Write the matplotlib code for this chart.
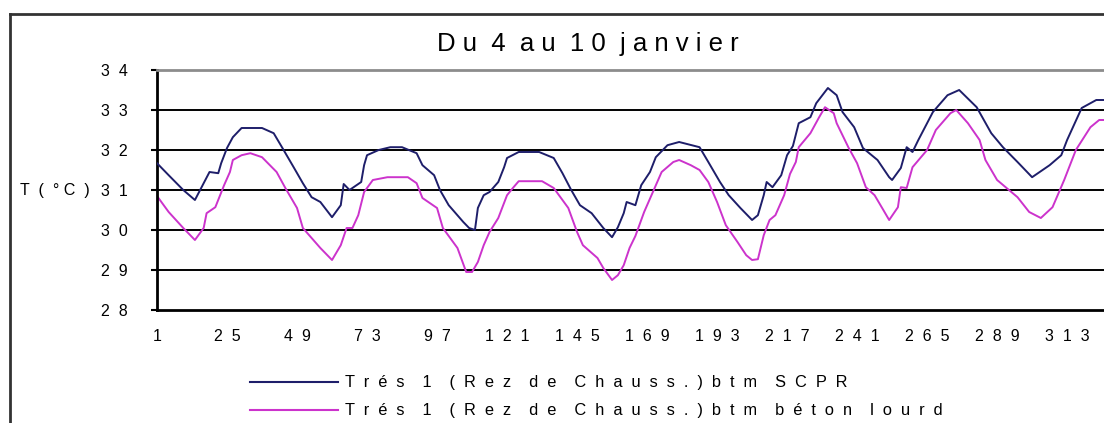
import matplotlib
matplotlib.use("Agg")
import matplotlib.pyplot as plt
from matplotlib.lines import Line2D

# Half-hourly indoor temperature, ground floor, 4-10 January
idx_scpr = [1, 5, 10, 14, 17, 19, 22, 23, 25, 27, 30, 37, 41, 44, 48, 51, 54, 57, 61, 64,
            65, 67, 71, 72, 73, 77, 81, 85, 90, 92, 96, 98, 101, 106, 108, 110, 111, 113, 115, 118,
            120, 121, 125, 132, 137, 140, 143, 146, 150, 154, 157, 159, 161, 162, 165, 167, 170, 172, 176, 180,
            187, 190, 194, 197, 201, 205, 207, 209, 210, 212, 215, 217, 219, 221, 225, 227, 231, 234, 236, 240,
            243, 248, 252, 253, 256, 258, 260, 262, 267, 272, 276, 282, 287, 291, 296, 301, 307, 311, 313, 318,
            323, 326]
t_scpr = [31.67, 31.37, 31.0, 30.75, 31.17, 31.45, 31.42, 31.67, 32.05, 32.32, 32.55, 32.55, 32.42, 32.05, 31.55, 31.17, 30.82, 30.7, 30.32, 30.62,
          31.15, 31.0, 31.2, 31.62, 31.87, 32.0, 32.07, 32.07, 31.92, 31.62, 31.37, 31.0, 30.62, 30.2, 30.05, 30.0, 30.55, 30.87, 30.95, 31.2,
          31.57, 31.8, 31.95, 31.95, 31.8, 31.42, 31.0, 30.62, 30.42, 30.05, 29.82, 30.07, 30.42, 30.7, 30.62, 31.12, 31.45, 31.82, 32.12, 32.2,
          32.07, 31.7, 31.2, 30.87, 30.55, 30.25, 30.37, 30.87, 31.2, 31.07, 31.37, 31.87, 32.1, 32.67, 32.82, 33.17, 33.55, 33.37, 32.95, 32.57,
          32.05, 31.75, 31.32, 31.25, 31.55, 32.07, 31.95, 32.25, 32.95, 33.37, 33.5, 33.07, 32.42, 32.07, 31.7, 31.32, 31.62, 31.87, 32.25, 33.05,
          33.25, 33.25]

idx_beton = [1, 5, 10, 14, 17, 18, 21, 24, 26, 27, 30, 33, 37, 42, 45, 49, 51, 54, 57, 61,
             64, 66, 68, 70, 72, 75, 80, 87, 90, 92, 97, 99, 104, 107, 109, 111, 113, 115, 118, 121,
             123, 125, 133, 137, 142, 145, 147, 152, 154, 157, 159, 161, 163, 165, 168, 171, 174, 178, 180, 184,
             187, 190, 193, 196, 200, 203, 205, 207, 209, 211, 213, 216, 218, 220, 221, 225, 228, 230, 233, 234,
             238, 241, 244, 247, 250, 252, 255, 256, 258, 260, 265, 268, 273, 275, 279, 283, 285, 289, 296, 300,
             304, 308, 312, 316, 321, 324, 326]
t_beton = [30.85, 30.45, 30.05, 29.75, 30.05, 30.42, 30.57, 31.12, 31.45, 31.75, 31.87, 31.92, 31.82, 31.45, 31.05, 30.55, 30.05, 29.8, 29.55, 29.25,
           29.62, 30.05, 30.05, 30.37, 30.95, 31.25, 31.32, 31.32, 31.17, 30.8, 30.55, 30.05, 29.55, 28.95, 28.95, 29.2, 29.62, 29.95, 30.3, 30.87,
           31.05, 31.22, 31.22, 31.05, 30.55, 29.95, 29.62, 29.3, 29.05, 28.75, 28.87, 29.12, 29.55, 29.85, 30.45, 30.95, 31.45, 31.7, 31.75, 31.62,
           31.5, 31.2, 30.7, 30.12, 29.7, 29.37, 29.25, 29.27, 29.87, 30.25, 30.37, 30.87, 31.4, 31.7, 32.07, 32.42, 32.82, 33.07, 32.92, 32.67,
           32.07, 31.67, 31.07, 30.87, 30.5, 30.25, 30.57, 31.07, 31.05, 31.57, 32.0, 32.5, 32.92, 33.0, 32.67, 32.25, 31.75, 31.25, 30.82, 30.45,
           30.3, 30.57, 31.25, 32.0, 32.57, 32.75, 32.75]

label_scpr = "Trés 1 (Rez de Chauss.)btm SCPR"
label_beton = "Trés 1 (Rez de Chauss.)btm béton lourd"
title = "Du 4 au 10 janvier"
y_caption = "T (°C)"

y_ticks = [28, 29, 30, 31, 32, 33, 34]
x_ticks = [1, 25, 49, 73, 97, 121, 145, 169, 193, 217, 241, 265, 289, 313]
x_marks = [1, 49, 97, 145, 193, 241, 289]
n_steps = 336

col_scpr = "#1e1e6a"
col_beton = "#cc33cc"


def spread(text, inner=1, outer=2):
    """Letter-spaced text in the old spreadsheet style."""
    return (" " * outer).join((" " * inner).join(w) for w in text.split(" "))


plt.rcParams["font.family"] = ["Liberation Sans", "DejaVu Sans"]

W, H = 1104, 423
fig = plt.figure(figsize=(W / 100, H / 100), dpi=100)
fig.patch.set_facecolor("white")

# plot area, runs past the right edge of the canvas
x0, x1, ytop, ybot = 157, 157 + (n_steps - 1) * 2.917, 70, 310
ax = fig.add_axes([x0 / W, 1 - ybot / H, (x1 - x0) / W, (ybot - ytop) / H])
ax.set_xlim(1, n_steps)
ax.set_ylim(28, 34)

for v in y_ticks[1:-1]:
    ax.axhline(v, color="black", lw=1.4, zorder=1)

ax.plot(idx_scpr, t_scpr, color=col_scpr, lw=1.4, zorder=3)
ax.plot(idx_beton, t_beton, color=col_beton, lw=1.4, zorder=2)

ax.spines["right"].set_visible(False)
ax.spines["top"].set_color("#8c8c8c")
ax.spines["top"].set_linewidth(2)
ax.spines["left"].set_linewidth(2)
ax.spines["bottom"].set_linewidth(2)

ax.set_yticks(y_ticks)
ax.set_yticklabels([spread(str(v), 2) for v in y_ticks])
ax.tick_params(axis="y", direction="out", length=4, width=1.5, pad=17, labelsize=11.5)

ax.set_xticks(x_ticks)
ax.set_xticklabels([spread(str(v), 2) for v in x_ticks])
ax.tick_params(axis="x", which="major", length=0, pad=14, labelsize=11.5)
ax.set_xticks(x_marks, minor=True)
ax.tick_params(axis="x", which="minor", direction="out", length=4, width=1.5)

# title and axis caption
fig.text(588 / W, 1 - 44 / H, spread(title, 1, 2), ha="center", va="center", fontsize=18.5)
fig.text(20 / W, 1 - 190 / H, "T  (  ° C  )", ha="left", va="center", fontsize=11.5)

# outer chart frame
fig.add_artist(Line2D([10 / W, 10 / W], [0, 1 - 14 / H], color="#333333", lw=2))
fig.add_artist(Line2D([10 / W, 1], [1 - 14 / H, 1 - 14 / H], color="#333333", lw=2))

# legend
for yy, col, lab in [(382, col_scpr, label_scpr), (410, col_beton, label_beton)]:
    fig.add_artist(Line2D([250 / W, 338 / W], [1 - yy / H, 1 - yy / H], color=col, lw=1.5))
    fig.text(345 / W, 1 - yy / H, spread(lab, 2, 4), ha="left", va="center", fontsize=11.8)

fig.savefig("out.png", dpi=100)
